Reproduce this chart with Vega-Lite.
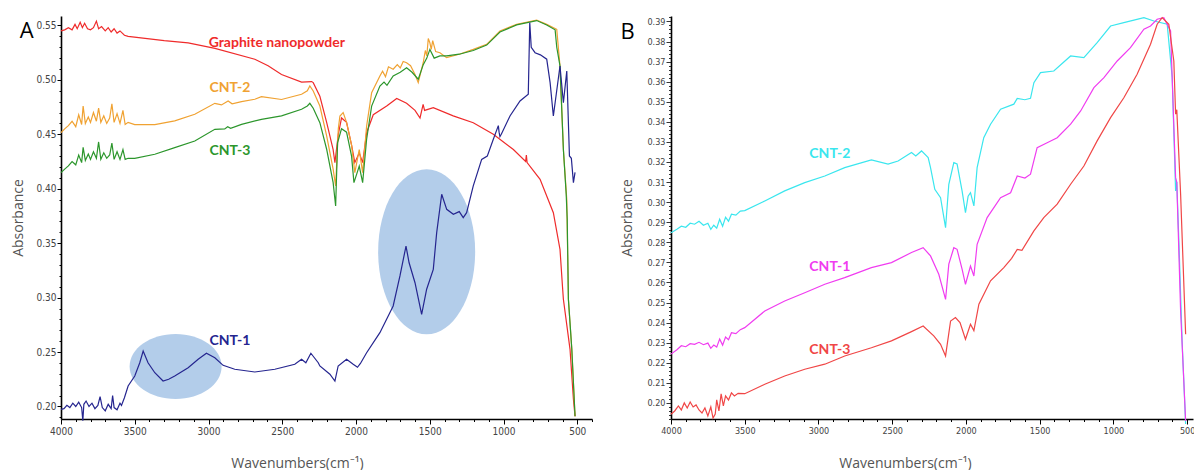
{
"$schema": "https://vega.github.io/schema/vega-lite/v6.json",
"padding": {"left": 11, "top": 15, "right": 0, "bottom": 0},
"autosize": {"type": "pad"},
"bounds": "flush",
"spacing": 79,
"config": {"view": {"stroke": null}, "font": "Open Sans"},
"resolve": {"scale": {"color": "independent"}},
"datasets": {
"A": [
{"s":"Graphite nanopowder","x":4000,"y":0.545},{"s":"Graphite nanopowder","x":3975,"y":0.546},{"s":"Graphite nanopowder","x":3950,"y":0.548},{"s":"Graphite nanopowder","x":3925,"y":0.546},{"s":"Graphite nanopowder","x":3905,"y":0.551},{"s":"Graphite nanopowder","x":3890,"y":0.547},{"s":"Graphite nanopowder","x":3870,"y":0.553},{"s":"Graphite nanopowder","x":3855,"y":0.548},{"s":"Graphite nanopowder","x":3840,"y":0.552},{"s":"Graphite nanopowder","x":3820,"y":0.547},{"s":"Graphite nanopowder","x":3800,"y":0.546},{"s":"Graphite nanopowder","x":3780,"y":0.548},{"s":"Graphite nanopowder","x":3760,"y":0.554},{"s":"Graphite nanopowder","x":3745,"y":0.547},{"s":"Graphite nanopowder","x":3725,"y":0.549},{"s":"Graphite nanopowder","x":3700,"y":0.545},{"s":"Graphite nanopowder","x":3680,"y":0.548},{"s":"Graphite nanopowder","x":3660,"y":0.544},{"s":"Graphite nanopowder","x":3640,"y":0.547},{"s":"Graphite nanopowder","x":3620,"y":0.543},{"s":"Graphite nanopowder","x":3600,"y":0.545},{"s":"Graphite nanopowder","x":3570,"y":0.541},{"s":"Graphite nanopowder","x":3545,"y":0.540},{"s":"Graphite nanopowder","x":3300,"y":0.536},{"s":"Graphite nanopowder","x":3138,"y":0.534},{"s":"Graphite nanopowder","x":2956,"y":0.529},{"s":"Graphite nanopowder","x":2686,"y":0.519},{"s":"Graphite nanopowder","x":2596,"y":0.513},{"s":"Graphite nanopowder","x":2505,"y":0.505},{"s":"Graphite nanopowder","x":2369,"y":0.498},{"s":"Graphite nanopowder","x":2301,"y":0.4985},{"s":"Graphite nanopowder","x":2290,"y":0.4975},{"s":"Graphite nanopowder","x":2245,"y":0.485},{"s":"Graphite nanopowder","x":2199,"y":0.461},{"s":"Graphite nanopowder","x":2155,"y":0.436},{"s":"Graphite nanopowder","x":2143,"y":0.424},{"s":"Graphite nanopowder","x":2120,"y":0.450},{"s":"Graphite nanopowder","x":2098,"y":0.465},{"s":"Graphite nanopowder","x":2064,"y":0.461},{"s":"Graphite nanopowder","x":2030,"y":0.440},{"s":"Graphite nanopowder","x":2008,"y":0.424},{"s":"Graphite nanopowder","x":1978,"y":0.433},{"s":"Graphite nanopowder","x":1955,"y":0.424},{"s":"Graphite nanopowder","x":1928,"y":0.4515},{"s":"Graphite nanopowder","x":1883,"y":0.468},{"s":"Graphite nanopowder","x":1792,"y":0.476},{"s":"Graphite nanopowder","x":1724,"y":0.483},{"s":"Graphite nanopowder","x":1657,"y":0.4785},{"s":"Graphite nanopowder","x":1600,"y":0.472},{"s":"Graphite nanopowder","x":1566,"y":0.465},{"s":"Graphite nanopowder","x":1545,"y":0.4776},{"s":"Graphite nanopowder","x":1535,"y":0.472},{"s":"Graphite nanopowder","x":1476,"y":0.4745},{"s":"Graphite nanopowder","x":1341,"y":0.467},{"s":"Graphite nanopowder","x":1205,"y":0.4607},{"s":"Graphite nanopowder","x":1069,"y":0.450},{"s":"Graphite nanopowder","x":933,"y":0.436},{"s":"Graphite nanopowder","x":850,"y":0.425},{"s":"Graphite nanopowder","x":845,"y":0.431},{"s":"Graphite nanopowder","x":840,"y":0.424},{"s":"Graphite nanopowder","x":752,"y":0.4087},{"s":"Graphite nanopowder","x":662,"y":0.378},{"s":"Graphite nanopowder","x":617,"y":0.3444},{"s":"Graphite nanopowder","x":600,"y":0.310},{"s":"Graphite nanopowder","x":594,"y":0.2985},{"s":"Graphite nanopowder","x":549,"y":0.2525},{"s":"Graphite nanopowder","x":526,"y":0.2066},{"s":"Graphite nanopowder","x":515,"y":0.191},
{"s":"CNT-2","x":4000,"y":0.4515},{"s":"CNT-2","x":3975,"y":0.455},{"s":"CNT-2","x":3950,"y":0.458},{"s":"CNT-2","x":3925,"y":0.462},{"s":"CNT-2","x":3900,"y":0.457},{"s":"CNT-2","x":3880,"y":0.468},{"s":"CNT-2","x":3860,"y":0.459},{"s":"CNT-2","x":3850,"y":0.476},{"s":"CNT-2","x":3835,"y":0.460},{"s":"CNT-2","x":3815,"y":0.466},{"s":"CNT-2","x":3800,"y":0.461},{"s":"CNT-2","x":3780,"y":0.470},{"s":"CNT-2","x":3760,"y":0.462},{"s":"CNT-2","x":3745,"y":0.474},{"s":"CNT-2","x":3730,"y":0.461},{"s":"CNT-2","x":3710,"y":0.467},{"s":"CNT-2","x":3690,"y":0.460},{"s":"CNT-2","x":3670,"y":0.465},{"s":"CNT-2","x":3655,"y":0.478},{"s":"CNT-2","x":3640,"y":0.461},{"s":"CNT-2","x":3620,"y":0.469},{"s":"CNT-2","x":3600,"y":0.460},{"s":"CNT-2","x":3580,"y":0.472},{"s":"CNT-2","x":3565,"y":0.459},{"s":"CNT-2","x":3545,"y":0.461},{"s":"CNT-2","x":3500,"y":0.459},{"s":"CNT-2","x":3364,"y":0.459},{"s":"CNT-2","x":3229,"y":0.4623},{"s":"CNT-2","x":3093,"y":0.4684},{"s":"CNT-2","x":2957,"y":0.4785},{"s":"CNT-2","x":2912,"y":0.477},{"s":"CNT-2","x":2867,"y":0.4806},{"s":"CNT-2","x":2840,"y":0.478},{"s":"CNT-2","x":2776,"y":0.480},{"s":"CNT-2","x":2686,"y":0.4822},{"s":"CNT-2","x":2641,"y":0.4846},{"s":"CNT-2","x":2505,"y":0.482},{"s":"CNT-2","x":2369,"y":0.4868},{"s":"CNT-2","x":2330,"y":0.490},{"s":"CNT-2","x":2313,"y":0.4944},{"s":"CNT-2","x":2290,"y":0.4898},{"s":"CNT-2","x":2245,"y":0.476},{"s":"CNT-2","x":2199,"y":0.4485},{"s":"CNT-2","x":2155,"y":0.418},{"s":"CNT-2","x":2138,"y":0.4026},{"s":"CNT-2","x":2120,"y":0.455},{"s":"CNT-2","x":2109,"y":0.4668},{"s":"CNT-2","x":2087,"y":0.470},{"s":"CNT-2","x":2064,"y":0.461},{"s":"CNT-2","x":2030,"y":0.440},{"s":"CNT-2","x":2008,"y":0.4148},{"s":"CNT-2","x":1978,"y":0.436},{"s":"CNT-2","x":1955,"y":0.4148},{"s":"CNT-2","x":1928,"y":0.4577},{"s":"CNT-2","x":1894,"y":0.4883},{"s":"CNT-2","x":1838,"y":0.5036},{"s":"CNT-2","x":1820,"y":0.508},{"s":"CNT-2","x":1800,"y":0.503},{"s":"CNT-2","x":1780,"y":0.512},{"s":"CNT-2","x":1748,"y":0.5098},{"s":"CNT-2","x":1720,"y":0.514},{"s":"CNT-2","x":1700,"y":0.511},{"s":"CNT-2","x":1680,"y":0.517},{"s":"CNT-2","x":1657,"y":0.5158},{"s":"CNT-2","x":1630,"y":0.513},{"s":"CNT-2","x":1600,"y":0.505},{"s":"CNT-2","x":1578,"y":0.4975},{"s":"CNT-2","x":1544,"y":0.516},{"s":"CNT-2","x":1530,"y":0.527},{"s":"CNT-2","x":1520,"y":0.522},{"s":"CNT-2","x":1510,"y":0.538},{"s":"CNT-2","x":1499,"y":0.534},{"s":"CNT-2","x":1490,"y":0.528},{"s":"CNT-2","x":1480,"y":0.536},{"s":"CNT-2","x":1460,"y":0.526},{"s":"CNT-2","x":1431,"y":0.525},{"s":"CNT-2","x":1386,"y":0.5204},{"s":"CNT-2","x":1300,"y":0.5236},{"s":"CNT-2","x":1205,"y":0.528},{"s":"CNT-2","x":1114,"y":0.5327},{"s":"CNT-2","x":1024,"y":0.545},{"s":"CNT-2","x":911,"y":0.551},{"s":"CNT-2","x":775,"y":0.555},{"s":"CNT-2","x":707,"y":0.551},{"s":"CNT-2","x":639,"y":0.5465},{"s":"CNT-2","x":617,"y":0.5128},{"s":"CNT-2","x":594,"y":0.436},{"s":"CNT-2","x":571,"y":0.390},{"s":"CNT-2","x":560,"y":0.2985},{"s":"CNT-2","x":537,"y":0.2528},{"s":"CNT-2","x":515,"y":0.191},
{"s":"CNT-3","x":4000,"y":0.4148},{"s":"CNT-3","x":3975,"y":0.418},{"s":"CNT-3","x":3950,"y":0.421},{"s":"CNT-3","x":3925,"y":0.425},{"s":"CNT-3","x":3900,"y":0.422},{"s":"CNT-3","x":3880,"y":0.431},{"s":"CNT-3","x":3860,"y":0.424},{"s":"CNT-3","x":3850,"y":0.438},{"s":"CNT-3","x":3835,"y":0.426},{"s":"CNT-3","x":3815,"y":0.432},{"s":"CNT-3","x":3800,"y":0.427},{"s":"CNT-3","x":3780,"y":0.434},{"s":"CNT-3","x":3760,"y":0.428},{"s":"CNT-3","x":3745,"y":0.443},{"s":"CNT-3","x":3730,"y":0.427},{"s":"CNT-3","x":3710,"y":0.433},{"s":"CNT-3","x":3690,"y":0.428},{"s":"CNT-3","x":3670,"y":0.431},{"s":"CNT-3","x":3655,"y":0.442},{"s":"CNT-3","x":3640,"y":0.427},{"s":"CNT-3","x":3620,"y":0.434},{"s":"CNT-3","x":3600,"y":0.427},{"s":"CNT-3","x":3580,"y":0.436},{"s":"CNT-3","x":3565,"y":0.427},{"s":"CNT-3","x":3545,"y":0.428},{"s":"CNT-3","x":3500,"y":0.428},{"s":"CNT-3","x":3364,"y":0.4317},{"s":"CNT-3","x":3229,"y":0.4378},{"s":"CNT-3","x":3093,"y":0.4439},{"s":"CNT-3","x":2957,"y":0.4546},{"s":"CNT-3","x":2890,"y":0.455},{"s":"CNT-3","x":2870,"y":0.457},{"s":"CNT-3","x":2850,"y":0.4555},{"s":"CNT-3","x":2776,"y":0.4592},{"s":"CNT-3","x":2641,"y":0.4638},{"s":"CNT-3","x":2505,"y":0.4669},{"s":"CNT-3","x":2369,"y":0.473},{"s":"CNT-3","x":2330,"y":0.476},{"s":"CNT-3","x":2313,"y":0.4785},{"s":"CNT-3","x":2290,"y":0.474},{"s":"CNT-3","x":2245,"y":0.4607},{"s":"CNT-3","x":2199,"y":0.4363},{"s":"CNT-3","x":2155,"y":0.4056},{"s":"CNT-3","x":2138,"y":0.3842},{"s":"CNT-3","x":2125,"y":0.4423},{"s":"CNT-3","x":2098,"y":0.4552},{"s":"CNT-3","x":2064,"y":0.452},{"s":"CNT-3","x":2030,"y":0.430},{"s":"CNT-3","x":2014,"y":0.4056},{"s":"CNT-3","x":1978,"y":0.4209},{"s":"CNT-3","x":1955,"y":0.4056},{"s":"CNT-3","x":1928,"y":0.4455},{"s":"CNT-3","x":1894,"y":0.4759},{"s":"CNT-3","x":1838,"y":0.4944},{"s":"CNT-3","x":1810,"y":0.498},{"s":"CNT-3","x":1790,"y":0.495},{"s":"CNT-3","x":1748,"y":0.5036},{"s":"CNT-3","x":1700,"y":0.507},{"s":"CNT-3","x":1657,"y":0.5112},{"s":"CNT-3","x":1620,"y":0.507},{"s":"CNT-3","x":1578,"y":0.5006},{"s":"CNT-3","x":1544,"y":0.514},{"s":"CNT-3","x":1520,"y":0.520},{"s":"CNT-3","x":1499,"y":0.528},{"s":"CNT-3","x":1470,"y":0.520},{"s":"CNT-3","x":1431,"y":0.522},{"s":"CNT-3","x":1386,"y":0.522},{"s":"CNT-3","x":1300,"y":0.5236},{"s":"CNT-3","x":1205,"y":0.527},{"s":"CNT-3","x":1114,"y":0.532},{"s":"CNT-3","x":1024,"y":0.544},{"s":"CNT-3","x":911,"y":0.5505},{"s":"CNT-3","x":775,"y":0.5545},{"s":"CNT-3","x":707,"y":0.5505},{"s":"CNT-3","x":650,"y":0.546},{"s":"CNT-3","x":639,"y":0.530},{"s":"CNT-3","x":617,"y":0.5128},{"s":"CNT-3","x":594,"y":0.436},{"s":"CNT-3","x":575,"y":0.395},{"s":"CNT-3","x":568,"y":0.372},{"s":"CNT-3","x":560,"y":0.2985},{"s":"CNT-3","x":537,"y":0.2528},{"s":"CNT-3","x":515,"y":0.191},
{"s":"CNT-1","x":4000,"y":0.1974},{"s":"CNT-1","x":3980,"y":0.198},{"s":"CNT-1","x":3960,"y":0.201},{"s":"CNT-1","x":3940,"y":0.199},{"s":"CNT-1","x":3920,"y":0.203},{"s":"CNT-1","x":3900,"y":0.200},{"s":"CNT-1","x":3880,"y":0.204},{"s":"CNT-1","x":3860,"y":0.199},{"s":"CNT-1","x":3852,"y":0.187},{"s":"CNT-1","x":3845,"y":0.202},{"s":"CNT-1","x":3830,"y":0.205},{"s":"CNT-1","x":3810,"y":0.200},{"s":"CNT-1","x":3790,"y":0.203},{"s":"CNT-1","x":3770,"y":0.198},{"s":"CNT-1","x":3750,"y":0.201},{"s":"CNT-1","x":3735,"y":0.209},{"s":"CNT-1","x":3720,"y":0.199},{"s":"CNT-1","x":3700,"y":0.196},{"s":"CNT-1","x":3680,"y":0.202},{"s":"CNT-1","x":3660,"y":0.198},{"s":"CNT-1","x":3650,"y":0.210},{"s":"CNT-1","x":3640,"y":0.199},{"s":"CNT-1","x":3620,"y":0.197},{"s":"CNT-1","x":3600,"y":0.203},{"s":"CNT-1","x":3590,"y":0.201},{"s":"CNT-1","x":3570,"y":0.208},{"s":"CNT-1","x":3545,"y":0.2188},{"s":"CNT-1","x":3500,"y":0.228},{"s":"CNT-1","x":3466,"y":0.2402},{"s":"CNT-1","x":3443,"y":0.251},{"s":"CNT-1","x":3410,"y":0.2402},{"s":"CNT-1","x":3364,"y":0.231},{"s":"CNT-1","x":3308,"y":0.2234},{"s":"CNT-1","x":3270,"y":0.225},{"s":"CNT-1","x":3229,"y":0.228},{"s":"CNT-1","x":3138,"y":0.2356},{"s":"CNT-1","x":3070,"y":0.2434},{"s":"CNT-1","x":3014,"y":0.2489},{"s":"CNT-1","x":2957,"y":0.2448},{"s":"CNT-1","x":2901,"y":0.2378},{"s":"CNT-1","x":2822,"y":0.2342},{"s":"CNT-1","x":2686,"y":0.2317},{"s":"CNT-1","x":2550,"y":0.2342},{"s":"CNT-1","x":2415,"y":0.2388},{"s":"CNT-1","x":2369,"y":0.2434},{"s":"CNT-1","x":2340,"y":0.2402},{"s":"CNT-1","x":2306,"y":0.2489},{"s":"CNT-1","x":2256,"y":0.2402},{"s":"CNT-1","x":2245,"y":0.2372},{"s":"CNT-1","x":2177,"y":0.2296},{"s":"CNT-1","x":2143,"y":0.2234},{"s":"CNT-1","x":2121,"y":0.2372},{"s":"CNT-1","x":2064,"y":0.2434},{"s":"CNT-1","x":2019,"y":0.2388},{"s":"CNT-1","x":1990,"y":0.236},{"s":"CNT-1","x":1970,"y":0.2395},{"s":"CNT-1","x":1928,"y":0.2494},{"s":"CNT-1","x":1838,"y":0.2678},{"s":"CNT-1","x":1748,"y":0.2923},{"s":"CNT-1","x":1702,"y":0.3199},{"s":"CNT-1","x":1661,"y":0.3474},{"s":"CNT-1","x":1640,"y":0.332},{"s":"CNT-1","x":1600,"y":0.3137},{"s":"CNT-1","x":1555,"y":0.2847},{"s":"CNT-1","x":1521,"y":0.3077},{"s":"CNT-1","x":1476,"y":0.326},{"s":"CNT-1","x":1453,"y":0.3597},{"s":"CNT-1","x":1419,"y":0.3949},{"s":"CNT-1","x":1385,"y":0.3811},{"s":"CNT-1","x":1340,"y":0.3766},{"s":"CNT-1","x":1300,"y":0.379},{"s":"CNT-1","x":1273,"y":0.3735},{"s":"CNT-1","x":1250,"y":0.378},{"s":"CNT-1","x":1205,"y":0.4026},{"s":"CNT-1","x":1148,"y":0.427},{"s":"CNT-1","x":1110,"y":0.430},{"s":"CNT-1","x":1069,"y":0.4455},{"s":"CNT-1","x":1035,"y":0.458},{"s":"CNT-1","x":1030,"y":0.452},{"s":"CNT-1","x":1024,"y":0.448},{"s":"CNT-1","x":1015,"y":0.450},{"s":"CNT-1","x":956,"y":0.4669},{"s":"CNT-1","x":888,"y":0.4806},{"s":"CNT-1","x":832,"y":0.4868},{"s":"CNT-1","x":822,"y":0.5526},{"s":"CNT-1","x":812,"y":0.530},{"s":"CNT-1","x":786,"y":0.525},{"s":"CNT-1","x":750,"y":0.523},{"s":"CNT-1","x":707,"y":0.519},{"s":"CNT-1","x":684,"y":0.4975},{"s":"CNT-1","x":662,"y":0.4669},{"s":"CNT-1","x":644,"y":0.4852},{"s":"CNT-1","x":617,"y":0.5128},{"s":"CNT-1","x":594,"y":0.479},{"s":"CNT-1","x":571,"y":0.5082},{"s":"CNT-1","x":553,"y":0.4301},{"s":"CNT-1","x":540,"y":0.428},{"s":"CNT-1","x":526,"y":0.4056},{"s":"CNT-1","x":515,"y":0.415}
],
"B": [
{"s":"CNT-2","x":4000,"y":0.2848},{"s":"CNT-2","x":3960,"y":0.2865},{"s":"CNT-2","x":3930,"y":0.288},{"s":"CNT-2","x":3900,"y":0.2875},{"s":"CNT-2","x":3870,"y":0.2895},{"s":"CNT-2","x":3840,"y":0.289},{"s":"CNT-2","x":3810,"y":0.2905},{"s":"CNT-2","x":3780,"y":0.2885},{"s":"CNT-2","x":3750,"y":0.2895},{"s":"CNT-2","x":3730,"y":0.2865},{"s":"CNT-2","x":3710,"y":0.2885},{"s":"CNT-2","x":3690,"y":0.287},{"s":"CNT-2","x":3670,"y":0.2915},{"s":"CNT-2","x":3650,"y":0.288},{"s":"CNT-2","x":3630,"y":0.2925},{"s":"CNT-2","x":3610,"y":0.2905},{"s":"CNT-2","x":3590,"y":0.294},{"s":"CNT-2","x":3560,"y":0.2935},{"s":"CNT-2","x":3530,"y":0.2955},{"s":"CNT-2","x":3500,"y":0.2958},{"s":"CNT-2","x":3364,"y":0.3006},{"s":"CNT-2","x":3229,"y":0.3056},{"s":"CNT-2","x":3093,"y":0.3097},{"s":"CNT-2","x":2957,"y":0.313},{"s":"CNT-2","x":2822,"y":0.3172},{"s":"CNT-2","x":2641,"y":0.321},{"s":"CNT-2","x":2528,"y":0.3189},{"s":"CNT-2","x":2460,"y":0.3205},{"s":"CNT-2","x":2369,"y":0.3247},{"s":"CNT-2","x":2340,"y":0.323},{"s":"CNT-2","x":2301,"y":0.3255},{"s":"CNT-2","x":2256,"y":0.3222},{"s":"CNT-2","x":2240,"y":0.3172},{"s":"CNT-2","x":2211,"y":0.3064},{"s":"CNT-2","x":2172,"y":0.3022},{"s":"CNT-2","x":2138,"y":0.2873},{"s":"CNT-2","x":2116,"y":0.3089},{"s":"CNT-2","x":2082,"y":0.3197},{"s":"CNT-2","x":2060,"y":0.319},{"s":"CNT-2","x":2026,"y":0.3056},{"s":"CNT-2","x":2003,"y":0.2948},{"s":"CNT-2","x":1985,"y":0.303},{"s":"CNT-2","x":1969,"y":0.3047},{"s":"CNT-2","x":1946,"y":0.2981},{"s":"CNT-2","x":1924,"y":0.3172},{"s":"CNT-2","x":1879,"y":0.3321},{"s":"CNT-2","x":1833,"y":0.3388},{"s":"CNT-2","x":1765,"y":0.3463},{"s":"CNT-2","x":1675,"y":0.3488},{"s":"CNT-2","x":1652,"y":0.3517},{"s":"CNT-2","x":1600,"y":0.351},{"s":"CNT-2","x":1562,"y":0.3517},{"s":"CNT-2","x":1539,"y":0.3595},{"s":"CNT-2","x":1494,"y":0.3645},{"s":"CNT-2","x":1404,"y":0.3653},{"s":"CNT-2","x":1290,"y":0.3728},{"s":"CNT-2","x":1200,"y":0.372},{"s":"CNT-2","x":1110,"y":0.3794},{"s":"CNT-2","x":1019,"y":0.3877},{"s":"CNT-2","x":929,"y":0.3894},{"s":"CNT-2","x":793,"y":0.3919},{"s":"CNT-2","x":725,"y":0.3902},{"s":"CNT-2","x":635,"y":0.3886},{"s":"CNT-2","x":601,"y":0.362},{"s":"CNT-2","x":578,"y":0.3056},{"s":"CNT-2","x":570,"y":0.31},{"s":"CNT-2","x":555,"y":0.279},{"s":"CNT-2","x":533,"y":0.2292},{"s":"CNT-2","x":510,"y":0.1895},
{"s":"CNT-1","x":4000,"y":0.2243},{"s":"CNT-1","x":3960,"y":0.2265},{"s":"CNT-1","x":3930,"y":0.2285},{"s":"CNT-1","x":3900,"y":0.228},{"s":"CNT-1","x":3870,"y":0.2295},{"s":"CNT-1","x":3840,"y":0.2292},{"s":"CNT-1","x":3810,"y":0.2302},{"s":"CNT-1","x":3780,"y":0.229},{"s":"CNT-1","x":3750,"y":0.2298},{"s":"CNT-1","x":3730,"y":0.2272},{"s":"CNT-1","x":3710,"y":0.2288},{"s":"CNT-1","x":3690,"y":0.2278},{"s":"CNT-1","x":3670,"y":0.2318},{"s":"CNT-1","x":3650,"y":0.2288},{"s":"CNT-1","x":3630,"y":0.2328},{"s":"CNT-1","x":3610,"y":0.2315},{"s":"CNT-1","x":3590,"y":0.235},{"s":"CNT-1","x":3560,"y":0.2345},{"s":"CNT-1","x":3530,"y":0.2365},{"s":"CNT-1","x":3500,"y":0.2375},{"s":"CNT-1","x":3364,"y":0.2458},{"s":"CNT-1","x":3229,"y":0.2508},{"s":"CNT-1","x":3093,"y":0.2549},{"s":"CNT-1","x":2957,"y":0.2591},{"s":"CNT-1","x":2822,"y":0.2624},{"s":"CNT-1","x":2641,"y":0.2674},{"s":"CNT-1","x":2505,"y":0.2699},{"s":"CNT-1","x":2369,"y":0.2749},{"s":"CNT-1","x":2290,"y":0.2773},{"s":"CNT-1","x":2240,"y":0.2732},{"s":"CNT-1","x":2184,"y":0.2641},{"s":"CNT-1","x":2138,"y":0.2516},{"s":"CNT-1","x":2116,"y":0.2691},{"s":"CNT-1","x":2082,"y":0.2773},{"s":"CNT-1","x":2060,"y":0.2765},{"s":"CNT-1","x":2026,"y":0.2666},{"s":"CNT-1","x":2003,"y":0.2591},{"s":"CNT-1","x":1969,"y":0.2682},{"s":"CNT-1","x":1946,"y":0.2632},{"s":"CNT-1","x":1924,"y":0.279},{"s":"CNT-1","x":1856,"y":0.2923},{"s":"CNT-1","x":1765,"y":0.3022},{"s":"CNT-1","x":1697,"y":0.3047},{"s":"CNT-1","x":1652,"y":0.313},{"s":"CNT-1","x":1600,"y":0.312},{"s":"CNT-1","x":1562,"y":0.3139},{"s":"CNT-1","x":1517,"y":0.3271},{"s":"CNT-1","x":1449,"y":0.3296},{"s":"CNT-1","x":1381,"y":0.3321},{"s":"CNT-1","x":1290,"y":0.3388},{"s":"CNT-1","x":1222,"y":0.3454},{"s":"CNT-1","x":1132,"y":0.357},{"s":"CNT-1","x":1064,"y":0.362},{"s":"CNT-1","x":974,"y":0.3703},{"s":"CNT-1","x":884,"y":0.3769},{"s":"CNT-1","x":793,"y":0.3861},{"s":"CNT-1","x":748,"y":0.3877},{"s":"CNT-1","x":703,"y":0.3911},{"s":"CNT-1","x":658,"y":0.3919},{"s":"CNT-1","x":612,"y":0.3853},{"s":"CNT-1","x":578,"y":0.3122},{"s":"CNT-1","x":570,"y":0.31},{"s":"CNT-1","x":544,"y":0.2458},{"s":"CNT-1","x":510,"y":0.191},
{"s":"CNT-3","x":4000,"y":0.1944},{"s":"CNT-3","x":3975,"y":0.196},{"s":"CNT-3","x":3950,"y":0.1985},{"s":"CNT-3","x":3930,"y":0.1965},{"s":"CNT-3","x":3910,"y":0.2},{"s":"CNT-3","x":3890,"y":0.1975},{"s":"CNT-3","x":3870,"y":0.2005},{"s":"CNT-3","x":3850,"y":0.198},{"s":"CNT-3","x":3830,"y":0.199},{"s":"CNT-3","x":3810,"y":0.1965},{"s":"CNT-3","x":3790,"y":0.195},{"s":"CNT-3","x":3770,"y":0.1975},{"s":"CNT-3","x":3750,"y":0.1935},{"s":"CNT-3","x":3730,"y":0.198},{"s":"CNT-3","x":3715,"y":0.1925},{"s":"CNT-3","x":3700,"y":0.1945},{"s":"CNT-3","x":3690,"y":0.2015},{"s":"CNT-3","x":3675,"y":0.196},{"s":"CNT-3","x":3660,"y":0.2045},{"s":"CNT-3","x":3645,"y":0.1985},{"s":"CNT-3","x":3630,"y":0.2035},{"s":"CNT-3","x":3610,"y":0.2015},{"s":"CNT-3","x":3590,"y":0.205},{"s":"CNT-3","x":3570,"y":0.2035},{"s":"CNT-3","x":3545,"y":0.2048},{"s":"CNT-3","x":3500,"y":0.2046},{"s":"CNT-3","x":3364,"y":0.2093},{"s":"CNT-3","x":3229,"y":0.2134},{"s":"CNT-3","x":3093,"y":0.2168},{"s":"CNT-3","x":2957,"y":0.2193},{"s":"CNT-3","x":2822,"y":0.2234},{"s":"CNT-3","x":2641,"y":0.2275},{"s":"CNT-3","x":2505,"y":0.2309},{"s":"CNT-3","x":2369,"y":0.2355},{"s":"CNT-3","x":2290,"y":0.2383},{"s":"CNT-3","x":2218,"y":0.2334},{"s":"CNT-3","x":2172,"y":0.2292},{"s":"CNT-3","x":2138,"y":0.2234},{"s":"CNT-3","x":2104,"y":0.2408},{"s":"CNT-3","x":2071,"y":0.2425},{"s":"CNT-3","x":2040,"y":0.24},{"s":"CNT-3","x":2003,"y":0.2317},{"s":"CNT-3","x":1969,"y":0.2392},{"s":"CNT-3","x":1946,"y":0.236},{"s":"CNT-3","x":1912,"y":0.2492},{"s":"CNT-3","x":1833,"y":0.2608},{"s":"CNT-3","x":1743,"y":0.2674},{"s":"CNT-3","x":1690,"y":0.272},{"s":"CNT-3","x":1652,"y":0.2765},{"s":"CNT-3","x":1620,"y":0.276},{"s":"CNT-3","x":1539,"y":0.2857},{"s":"CNT-3","x":1472,"y":0.2923},{"s":"CNT-3","x":1381,"y":0.299},{"s":"CNT-3","x":1290,"y":0.3089},{"s":"CNT-3","x":1200,"y":0.318},{"s":"CNT-3","x":1110,"y":0.3305},{"s":"CNT-3","x":1019,"y":0.3421},{"s":"CNT-3","x":929,"y":0.352},{"s":"CNT-3","x":839,"y":0.3637},{"s":"CNT-3","x":748,"y":0.3786},{"s":"CNT-3","x":703,"y":0.3886},{"s":"CNT-3","x":669,"y":0.3919},{"s":"CNT-3","x":624,"y":0.3886},{"s":"CNT-3","x":590,"y":0.3703},{"s":"CNT-3","x":578,"y":0.3438},{"s":"CNT-3","x":570,"y":0.346},{"s":"CNT-3","x":544,"y":0.3039},{"s":"CNT-3","x":510,"y":0.2342}
],
"AL": [
{"s":"Graphite nanopowder","t":"Graphite nanopowder","x":2537,"y":0.5339},
{"s":"CNT-2","t":"CNT-2","x":2855,"y":0.4929},
{"s":"CNT-3","t":"CNT-3","x":2855,"y":0.4347},
{"s":"CNT-1","t":"CNT-1","x":2855,"y":0.2602}
],
"BL": [
{"s":"CNT-2","t":"CNT-2","x":2923,"y":0.3242},
{"s":"CNT-1","t":"CNT-1","x":2923,"y":0.2677},
{"s":"CNT-3","t":"CNT-3","x":2923,"y":0.2262}
]
},
"hconcat": [
{
"width": 531, "height": 403,
"resolve": {"axis": {"x": "independent", "y": "independent"}},
"layer": [
{"data": {"values": [{"x": 3223, "y": 0.2367}]},
 "mark": {"type": "point", "filled": true, "opacity": 1, "strokeWidth": 0, "color": "#b3cdea", "size": 8464, "shape": "M1,0C1,0.3905,0.5523,0.707,0,0.707C-0.5523,0.707,-1,0.3905,-1,0C-1,-0.3905,-0.5523,-0.707,0,-0.707C0.5523,-0.707,1,-0.3905,1,0Z"},
 "encoding": {
  "x": {"field": "x", "type": "quantitative", "scale": {"domain": [400, 4000], "reverse": true, "nice": false, "zero": false},
   "axis": {"orient": "bottom", "title": null, "labels": false, "domain": false, "grid": false, "tickSize": 2.5, "tickColor": "#000", "tickWidth": 1,
    "values": [3900,3800,3700,3600,3400,3300,3200,3100,2900,2800,2700,2600,2400,2300,2200,2100,1900,1800,1700,1600,1400,1300,1200,1100,900,800,700,600,400]}},
  "y": {"field": "y", "type": "quantitative", "scale": {"domain": [0.1885, 0.5587], "nice": false, "zero": false},
   "axis": {"orient": "left", "title": null, "labels": false, "domain": false, "grid": false, "tickSize": 2, "tickColor": "#000", "tickWidth": 1,
    "values": [0.19,0.21,0.22,0.23,0.24,0.26,0.27,0.28,0.29,0.31,0.32,0.33,0.34,0.36,0.37,0.38,0.39,0.41,0.42,0.43,0.44,0.46,0.47,0.48,0.49,0.51,0.52,0.53,0.54]}}
 }},
{"data": {"values": [{"x": 1521, "y": 0.3421}]},
 "mark": {"type": "point", "filled": true, "opacity": 1, "strokeWidth": 0, "color": "#b3cdea", "size": 27225, "shape": "M0.588,0C0.588,0.5523,0.3248,1,0,1C-0.3248,1,-0.588,0.5523,-0.588,0C-0.588,-0.5523,-0.3248,-1,0,-1C0.3248,-1,0.588,-0.5523,0.588,0Z"},
 "encoding": {
  "x": {"field": "x", "type": "quantitative", "scale": {"domain": [400, 4000], "reverse": true, "nice": false, "zero": false}, "axis": null},
  "y": {"field": "y", "type": "quantitative", "scale": {"domain": [0.1885, 0.5587], "nice": false, "zero": false}, "axis": null}
 }},
{"data": {"name": "A"},
 "mark": {"type": "line", "strokeWidth": 1.2},
 "encoding": {
  "x": {"field": "x", "type": "quantitative", "scale": {"domain": [400, 4000], "reverse": true, "nice": false, "zero": false},
   "axis": {"orient": "bottom", "title": "Wavenumbers(cm⁻¹)", "grid": false,
    "values": [4000,3500,3000,2500,2000,1500,1000,500],
    "format": "d", "tickSize": 5,
    "labelFlush": false, "labelOverlap": false, "labelPadding": 2,
    "labelFont": "Liberation Sans Narrow, DejaVu Sans Condensed, sans-serif", "labelFontSize": 10, "labelColor": "#444",
    "domainColor": "#000", "domainWidth": 1.6, "tickColor": "#000", "tickWidth": 1,
    "titleFont": "Open Sans", "titleFontSize": 14, "titleFontWeight": "normal", "titleColor": "#555",
    "titleX": 236, "titleY": 44, "titleBaseline": "middle"}},
  "y": {"field": "y", "type": "quantitative", "scale": {"domain": [0.1885, 0.5587], "nice": false, "zero": false},
   "axis": {"orient": "left", "title": "Absorbance", "grid": false,
    "values": [0.2,0.25,0.3,0.35,0.4,0.45,0.5,0.55],
    "format": ".2f", "tickSize": 4,
    "labelOverlap": false, "labelPadding": 1,
    "labelFont": "Liberation Sans Narrow, DejaVu Sans Condensed, sans-serif", "labelFontSize": 10, "labelColor": "#444",
    "domainColor": "#000", "domainWidth": 1.6, "tickColor": "#000", "tickWidth": 1,
    "titleFont": "Open Sans", "titleFontSize": 14, "titleFontWeight": "normal", "titleColor": "#555",
    "titleX": -43, "titleBaseline": "middle"}},
  "color": {"field": "s", "type": "nominal", "legend": null,
   "scale": {"domain": ["Graphite nanopowder", "CNT-2", "CNT-3", "CNT-1"], "range": ["#ef2b2b", "#f0a232", "#2c962c", "#25258f"]}}
 }},
{"data": {"name": "AL"},
 "mark": {"type": "text", "font": "Lato", "fontWeight": "bold", "fontSize": 14, "align": "center", "baseline": "middle"},
 "encoding": {
  "x": {"field": "x", "type": "quantitative", "scale": {"domain": [400, 4000], "reverse": true, "nice": false, "zero": false}, "axis": null},
  "y": {"field": "y", "type": "quantitative", "scale": {"domain": [0.1885, 0.5587], "nice": false, "zero": false}, "axis": null},
  "text": {"field": "t"},
  "color": {"field": "s", "type": "nominal", "legend": null,
   "scale": {"domain": ["Graphite nanopowder", "CNT-2", "CNT-3", "CNT-1"], "range": ["#ef2b2b", "#f0a232", "#2c962c", "#25258f"]}}
 }},
{"data": {"values": [{"t": "A", "x": 4233, "y": 0.545}]},
 "mark": {"type": "text", "font": "Open Sans", "fontSize": 22, "align": "center", "baseline": "middle", "color": "#000"},
 "encoding": {
  "x": {"field": "x", "type": "quantitative", "scale": {"domain": [400, 4000], "reverse": true, "nice": false, "zero": false}, "axis": null},
  "y": {"field": "y", "type": "quantitative", "scale": {"domain": [0.1885, 0.5587], "nice": false, "zero": false}, "axis": null},
  "text": {"field": "t"}
 }}
]
},
{
"width": 522, "height": 403,
"resolve": {"axis": {"x": "independent", "y": "independent"}},
"layer": [
{"data": {"name": "B"},
 "mark": {"type": "line", "strokeWidth": 1.2},
 "encoding": {
  "x": {"field": "x", "type": "quantitative", "scale": {"domain": [460, 4000], "reverse": true, "nice": false, "zero": false},
   "axis": {"orient": "bottom", "title": "Wavenumbers(cm⁻¹)", "grid": false,
    "values": [4000,3500,3000,2500,2000,1500,1000,500],
    "format": "d", "tickSize": 5,
    "labelFlush": false, "labelOverlap": false, "labelPadding": 2,
    "labelFont": "Liberation Sans Narrow, DejaVu Sans Condensed, sans-serif", "labelFontSize": 9, "labelColor": "#444",
    "domainColor": "#000", "domainWidth": 1.6, "tickColor": "#000", "tickWidth": 1,
    "titleFont": "Open Sans", "titleFontSize": 14, "titleFontWeight": "normal", "titleColor": "#555",
    "titleX": 234, "titleY": 44, "titleBaseline": "middle"}},
  "y": {"field": "y", "type": "quantitative", "scale": {"domain": [0.192, 0.3927], "nice": false, "zero": false},
   "axis": {"orient": "left", "title": "Absorbance", "grid": false,
    "values": [0.2,0.21,0.22,0.23,0.24,0.25,0.26,0.27,0.28,0.29,0.3,0.31,0.32,0.33,0.34,0.35,0.36,0.37,0.38,0.39],
    "format": ".2f", "tickSize": 5,
    "labelOverlap": false, "labelPadding": 1,
    "labelFont": "Liberation Sans Narrow, DejaVu Sans Condensed, sans-serif", "labelFontSize": 9, "labelColor": "#444",
    "domainColor": "#000", "domainWidth": 1.6, "tickColor": "#000", "tickWidth": 0.8,
    "titleFont": "Open Sans", "titleFontSize": 14, "titleFontWeight": "normal", "titleColor": "#555",
    "titleX": -44, "titleBaseline": "middle"}},
  "color": {"field": "s", "type": "nominal", "legend": null,
   "scale": {"domain": ["CNT-2", "CNT-1", "CNT-3"], "range": ["#3ae6ee", "#f03cf0", "#f04646"]}}
 }},
{"data": {"name": "BL"},
 "mark": {"type": "text", "font": "Lato", "fontWeight": "bold", "fontSize": 14, "align": "center", "baseline": "middle"},
 "encoding": {
  "x": {"field": "x", "type": "quantitative", "scale": {"domain": [460, 4000], "reverse": true, "nice": false, "zero": false},
   "axis": {"orient": "bottom", "title": null, "labels": false, "domain": false, "grid": false, "tickSize": 2.5, "tickColor": "#000", "tickWidth": 1,
    "values": [3900,3800,3700,3600,3400,3300,3200,3100,2900,2800,2700,2600,2400,2300,2200,2100,1900,1800,1700,1600,1400,1300,1200,1100,900,800,700,600]}},
  "y": {"field": "y", "type": "quantitative", "scale": {"domain": [0.192, 0.3927], "nice": false, "zero": false},
   "axis": {"orient": "left", "title": null, "labels": false, "domain": false, "grid": false, "tickSize": 2.5, "tickColor": "#000", "tickWidth": 0.8,
    "values": [0.192,0.194,0.196,0.198,0.202,0.204,0.206,0.208,0.212,0.214,0.216,0.218,0.222,0.224,0.226,0.228,0.232,0.234,0.236,0.238,0.242,0.244,0.246,0.248,0.252,0.254,0.256,0.258,0.262,0.264,0.266,0.268,0.272,0.274,0.276,0.278,0.282,0.284,0.286,0.288,0.292,0.294,0.296,0.298,0.302,0.304,0.306,0.308,0.312,0.314,0.316,0.318,0.322,0.324,0.326,0.328,0.332,0.334,0.336,0.338,0.342,0.344,0.346,0.348,0.352,0.354,0.356,0.358,0.362,0.364,0.366,0.368,0.372,0.374,0.376,0.378,0.382,0.384,0.386,0.388,0.392]}},
  "text": {"field": "t"},
  "color": {"field": "s", "type": "nominal", "legend": null,
   "scale": {"domain": ["CNT-2", "CNT-1", "CNT-3"], "range": ["#3ae6ee", "#f03cf0", "#f04646"]}}
 }},
{"data": {"values": [{"t": "B", "x": 4294, "y": 0.3848}]},
 "mark": {"type": "text", "font": "Open Sans", "fontSize": 22, "align": "center", "baseline": "middle", "color": "#000"},
 "encoding": {
  "x": {"field": "x", "type": "quantitative", "scale": {"domain": [460, 4000], "reverse": true, "nice": false, "zero": false}, "axis": null},
  "y": {"field": "y", "type": "quantitative", "scale": {"domain": [0.192, 0.3927], "nice": false, "zero": false}, "axis": null},
  "text": {"field": "t"}
 }}
]
}
]
}
